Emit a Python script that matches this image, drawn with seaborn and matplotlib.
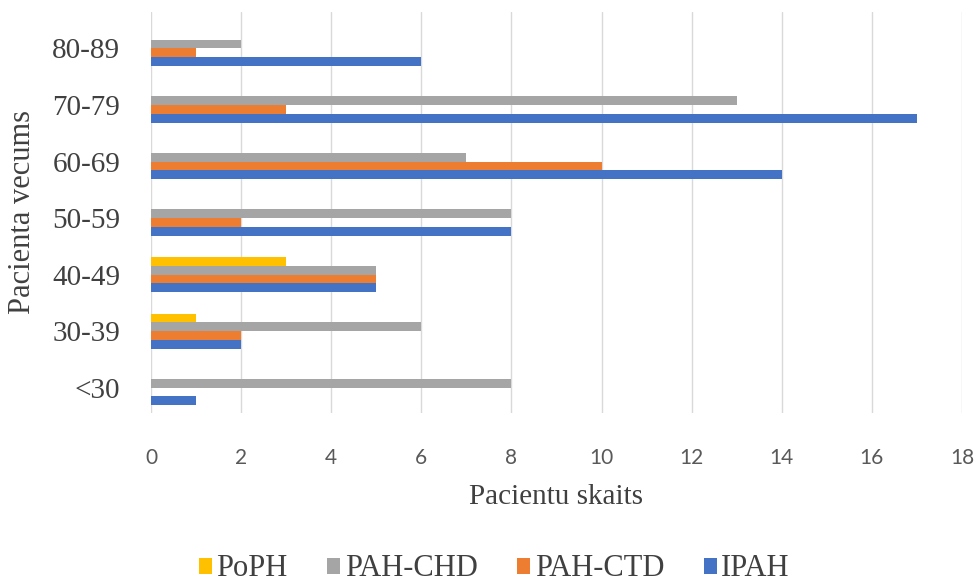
import matplotlib
matplotlib.use("Agg")
import matplotlib.pyplot as plt
import seaborn as sns
import pandas as pd
from matplotlib.patches import Patch

# Age groups (top to bottom) and patient counts per PAH group
age_groups = ["80-89", "70-79", "60-69", "50-59", "40-49", "30-39", "<30"]
series = ["PoPH", "PAH-CHD", "PAH-CTD", "IPAH"]
poph = [0, 0, 0, 0, 3, 1, 0]
pah_chd = [2, 13, 7, 8, 5, 6, 8]
pah_ctd = [1, 3, 10, 2, 5, 2, 0]
ipah = [6, 17, 14, 8, 5, 2, 1]
x_ticks = [0, 2, 4, 6, 8, 10, 12, 14, 16, 18]

colors = {"PoPH": "#FFC000", "PAH-CHD": "#A5A5A5", "PAH-CTD": "#ED7D31", "IPAH": "#4472C4"}

values = {"PoPH": poph, "PAH-CHD": pah_chd, "PAH-CTD": pah_ctd, "IPAH": ipah}
rows = []
for s in series:
    for g, v in zip(age_groups, values[s]):
        rows.append({"Vecums": g, "Grupa": s, "Skaits": v})
df = pd.DataFrame(rows)

sns.set_theme(style="white")
serif = ["Liberation Serif", "DejaVu Serif"]
plt.rcParams["font.family"] = serif

fig = plt.figure(figsize=(9.79, 5.82), dpi=100)
ax = fig.add_axes([0.1542, 0.2904, 0.8284, 0.689])

sns.barplot(data=df, y="Vecums", x="Skaits", hue="Grupa", order=age_groups,
            hue_order=series, palette=colors, orient="h", width=0.62,
            gap=0, saturation=1, errorbar=None, legend=False, ax=ax, zorder=3)
for p in ax.patches:
    p.set_edgecolor("none")

ax.set_xlim(0, 18)
ax.set_ylim(6.45, -0.646)
ax.set_xticks(x_ticks)
ax.set_xticklabels([str(t) for t in x_ticks], fontsize=15, color="#595959",
                   family=["Lato", "DejaVu Sans"])
ax.grid(axis="x", color="#D9D9D9", linewidth=1, zorder=0)
ax.grid(axis="y", visible=False)
for sp in ax.spines.values():
    sp.set_visible(False)
ax.tick_params(axis="x", length=0, pad=25)
ax.tick_params(axis="y", length=0, pad=22, labelsize=21, labelcolor="#404040")

ax.set_xlabel("Pacientu skaits", fontsize=21, color="#404040", labelpad=12)
ax.set_ylabel("")
fig.text(23 / 979, 1 - 212 / 582, "Pacienta vecums", rotation=90, fontsize=22,
         color="#404040", ha="center", va="center")

handles = [Patch(facecolor=colors[s], edgecolor="none") for s in series]
fig.legend(handles, series, loc="center", bbox_to_anchor=(0.505, 1 - 569 / 582),
           ncol=4, frameon=False, fontsize=22, handlelength=0.42, handleheight=0.42,
           handletextpad=0.15, columnspacing=1.3, labelcolor="#404040")

fig.savefig("out.png", dpi=100)
